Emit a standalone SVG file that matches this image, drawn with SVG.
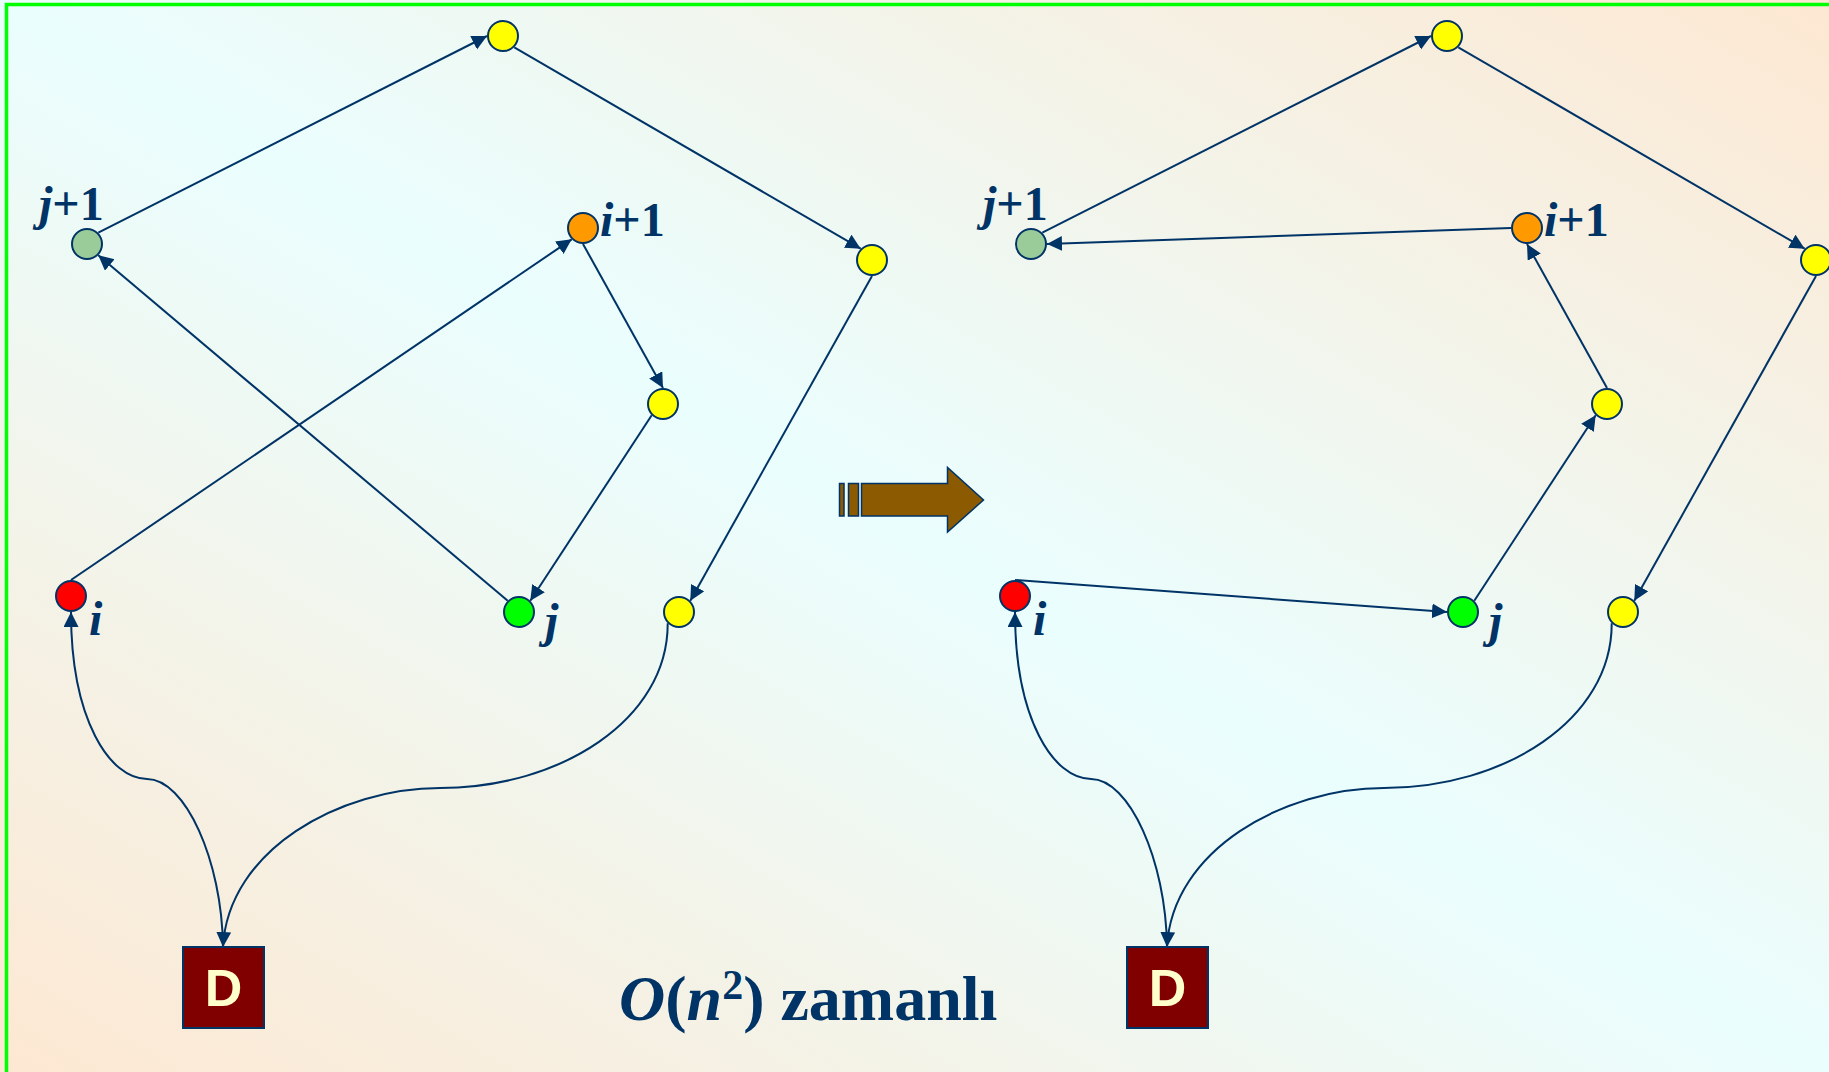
<svg xmlns="http://www.w3.org/2000/svg" width="1829" height="1072" viewBox="0 0 1829 1072">
<defs>
<linearGradient id="bg" x1="0" y1="1" x2="1" y2="0">
<stop offset="0" stop-color="#fde8d2"/>
<stop offset="0.5" stop-color="#eafefe"/>
<stop offset="1" stop-color="#fde8d2"/>
</linearGradient>
<marker id="ah" markerUnits="userSpaceOnUse" markerWidth="16" markerHeight="16" refX="15" refY="7.5" orient="auto" viewBox="0 0 16 16">
<path d="M0,0 L15,7.5 L0,15 z" fill="#003366"/>
</marker>
<style>
.n{stroke:#003366;stroke-width:2}
.e{fill:none;stroke:#003366;stroke-width:2;marker-end:url(#ah)}
.lbl{font-family:"Liberation Serif","Times New Roman",serif;font-weight:bold;font-size:48px;fill:#003366}
.it{font-style:italic}
.dbox{fill:#800000;stroke:#003366;stroke-width:2}
.dtxt{font-family:"Liberation Sans",Arial,sans-serif;font-weight:bold;font-size:52px;fill:#ffffcc;text-anchor:middle}
.y{fill:#ffff00}
</style>
</defs>
<rect x="0" y="0" width="1829" height="1072" fill="url(#bg)"/>
<rect x="6.5" y="4.5" width="1840" height="1090" fill="none" stroke="#00ff00" stroke-width="3.5"/>

<g id="connectors">
<path class="e" d="M98.3,232.7 L487,36"/>
<path class="e" d="M514.3,47.3 L860.7,248.7"/>
<path class="e" d="M872,276 L690.3,600.7"/>
<path class="e" d="M71,580 L571.7,239.3"/>
<path class="e" d="M583,244 L663,388"/>
<path class="e" d="M651.7,415.3 L530.3,600.7"/>
<path class="e" d="M507.7,600.7 L98.3,255.3"/>
<path class="e" d="M223,947 C222,860 185,779 147,779 C110,779 71,720 71,612"/>
<path class="e" d="M667.7,623.3 C668,720 560,788 440,788 C340,788 228,850 223,947"/>

<path class="e" d="M1042.3,232.7 L1431,36"/>
<path class="e" d="M1458.3,47.3 L1804.7,248.7"/>
<path class="e" d="M1816,276 L1634.3,600.7"/>
<path class="e" d="M1015,580 L1447,612"/>
<path class="e" d="M1474.3,600.7 L1595.7,415.3"/>
<path class="e" d="M1607,388 L1527,244"/>
<path class="e" d="M1511,228 L1047,244"/>
<path class="e" d="M1167,947 C1166,860 1129,779 1091,779 C1054,779 1015,720 1015,612"/>
<path class="e" d="M1611.7,623.3 C1612,720 1504,788 1384,788 C1284,788 1172,850 1167,947"/>
</g>

<g id="L-top"><circle class="n y" cx="503" cy="36" r="15"/></g>
<g id="L-right"><circle class="n y" cx="872" cy="260" r="15"/></g>
<g id="L-mid"><circle class="n y" cx="663" cy="404" r="15"/></g>
<g id="L-bottom"><circle class="n y" cx="679" cy="612" r="15"/></g>
<g id="L-j1"><circle class="n" cx="87" cy="244" r="15" fill="#99cc99"/>
<text class="lbl" x="39" y="220"><tspan class="it">j</tspan>+1</text></g>
<g id="L-i1"><circle class="n" cx="583" cy="228" r="15" fill="#ff9900"/>
<text class="lbl" x="600" y="236"><tspan class="it">i</tspan>+1</text></g>
<g id="L-i"><circle class="n" cx="71" cy="596" r="15" fill="#ff0000"/>
<text class="lbl it" x="89" y="635">i</text></g>
<g id="L-j"><circle class="n" cx="519" cy="612" r="15" fill="#00ff00"/>
<text class="lbl it" x="545" y="637">j</text></g>
<g id="L-D"><rect class="dbox" x="183" y="947" width="81" height="81"/>
<text class="dtxt" x="223.5" y="1006">D</text></g>

<g id="transform-arrow">
<rect x="839.5" y="483.5" width="4.5" height="32.5" fill="#8c5a00" stroke="#003366" stroke-width="1.5"/>
<rect x="848.5" y="483.5" width="10" height="32.5" fill="#8c5a00" stroke="#003366" stroke-width="1.5"/>
<polygon points="861.5,483.5 947.5,483.5 947.5,467.5 983.5,500 947.5,532 947.5,516 861.5,516" fill="#8c5a00" stroke="#003366" stroke-width="1.5"/>
</g>

<g id="R-top"><circle class="n y" cx="1447" cy="36" r="15"/></g>
<g id="R-right"><circle class="n y" cx="1816" cy="260" r="15"/></g>
<g id="R-mid"><circle class="n y" cx="1607" cy="404" r="15"/></g>
<g id="R-bottom"><circle class="n y" cx="1623" cy="612" r="15"/></g>
<g id="R-j1"><circle class="n" cx="1031" cy="244" r="15" fill="#99cc99"/>
<text class="lbl" x="983" y="220"><tspan class="it">j</tspan>+1</text></g>
<g id="R-i1"><circle class="n" cx="1527" cy="228" r="15" fill="#ff9900"/>
<text class="lbl" x="1544" y="236"><tspan class="it">i</tspan>+1</text></g>
<g id="R-i"><circle class="n" cx="1015" cy="596" r="15" fill="#ff0000"/>
<text class="lbl it" x="1033" y="635">i</text></g>
<g id="R-j"><circle class="n" cx="1463" cy="612" r="15" fill="#00ff00"/>
<text class="lbl it" x="1489" y="637">j</text></g>
<g id="R-D"><rect class="dbox" x="1127" y="947" width="81" height="81"/>
<text class="dtxt" x="1167.5" y="1006">D</text></g>

<g id="title">
<text class="lbl" x="619" y="1020" style="font-size:64px"><tspan class="it">O</tspan>(<tspan class="it">n</tspan><tspan dy="-21" style="font-size:42px">2</tspan><tspan dy="21">) zamanlı</tspan></text>
</g>
</svg>
